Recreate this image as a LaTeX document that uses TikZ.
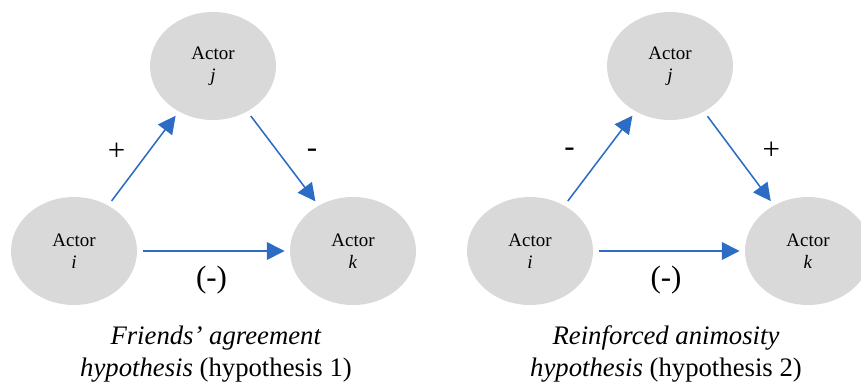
\documentclass[tikz,border=0pt]{standalone}
\usepackage{fontspec}
\setmainfont{Liberation Serif}
\usetikzlibrary{arrows.meta, positioning, shapes.geometric}
\definecolor{arrblue}{RGB}{45,108,196}
\definecolor{actgray}{RGB}{217,217,217}

\begin{document}
\begin{tikzpicture}[
  actor/.style={ellipse, fill=actgray, minimum width=3.15cm, minimum height=2.7cm, inner sep=0pt, align=center, font=\fontsize{13.5}{15.5}\selectfont},
  arr/.style={-{Triangle[length=4.4mm, width=4.4mm]}, draw=arrblue, line width=1.1pt, shorten >=0.13cm, shorten <=0.14cm},
  sgn/.style={font=\fontsize{22}{24}\selectfont, inner sep=1pt},
  hyplabel/.style={align=center, font=\fontsize{19}{22.75}\selectfont},
]
\useasboundingbox (0,0) rectangle (21.525,9.775);

% ---- left panel
\node[actor] (iL) at (1.85,3.5) {Actor\\\textit{i}};
\node[actor] (jL) at (5.325,8.125) {Actor\\\textit{j}};
\node[actor] (kL) at (8.825,3.5) {Actor\\\textit{k}};
\draw[arr] (iL) -- node[sgn, midway, shift={(-0.675,0.175)}] (pL) {+} (jL);
\draw[arr] (jL) -- node[sgn, midway, shift={(0.725,0.125)}] (mL) {-} (kL);
\draw[arr] (iL) -- node[sgn, midway, shift={(-0.05,-0.725)}] (nL) {(-)} (kL);
\node[hyplabel] (hypL) at (5.4,0.925) {\textit{Friends’ agreement}\\\textit{hypothesis} (hypothesis 1)};

% ---- right panel
\node[actor] (iR) at (13.25,3.5) {Actor\\\textit{i}};
\node[actor] (jR) at (16.75,8.125) {Actor\\\textit{j}};
\node[actor] (kR) at (20.2,3.5) {Actor\\\textit{k}};
\draw[arr] (iR) -- node[sgn, midway, shift={(-0.76,0.16)}] (mR) {-} (jR);
\draw[arr] (jR) -- node[sgn, midway, shift={(0.81,0.19)}] (pR) {+} (kR);
\draw[arr] (iR) -- node[sgn, midway, shift={(-0.075,-0.725)}] (nR) {(-)} (kR);
\node[hyplabel] (hypR) at (16.65,0.925) {\textit{Reinforced animosity}\\\textit{hypothesis} (hypothesis 2)};
\end{tikzpicture}
\end{document}
